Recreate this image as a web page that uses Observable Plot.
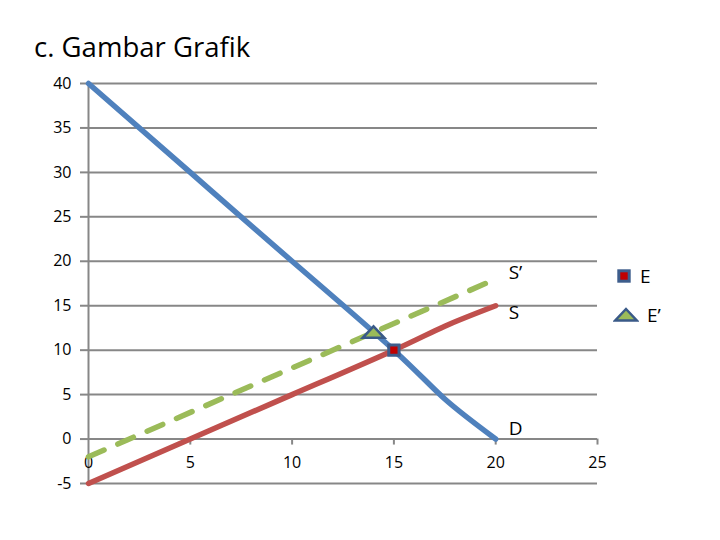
<!DOCTYPE html>
<html>
<head>
<meta charset="utf-8">
<script src="https://cdn.jsdelivr.net/npm/d3@7"></script>
<script src="https://cdn.jsdelivr.net/npm/@observablehq/plot@0.6"></script>
<style>
  body { margin: 0; background: #fff; }
  #wrap { position: relative; width: 720px; height: 540px; font-family: "Open Sans", sans-serif; color: #000; }
  #title { position: absolute; left: 34px; top: 33px; font-size: 27px; line-height: 1; white-space: nowrap;
           display: inline-block; transform: scaleX(1.02); transform-origin: left center; }
  #chart { position: absolute; left: 0; top: 0; }
  .leg { position: absolute; display: flex; align-items: center; font-size: 19px; line-height: 1; }
  .leg svg { margin-right: 8px; }
</style>
</head>
<body>
<div id="wrap">
  <div id="chart"></div>
  <div id="title">c. Gambar Grafik</div>
  <div id="legend"></div>
</div>
<script>
// Demand curve D
const qD = [0, 5, 10, 15, 17.5, 20];
const pD = [40, 30, 20, 10, 4.5, 0];
// Supply curve S
const qS = [0, 5, 10, 15, 17.5, 20];
const pS = [-5, 0, 5, 10, 12.7, 15];
// Shifted supply curve S'
const qS2 = [0, 20];
const pS2 = [-2, 18];
// Equilibria
const eqNames = ["E", "E’"];
const eqQ = [15, 14];
const eqP = [10, 12];
// Axis ticks
const xTicks = [0, 5, 10, 15, 20, 25];
const yTicks = [-5, 0, 5, 10, 15, 20, 25, 30, 35, 40];
// Line labels
const lineLabels = ["S’", "S", "D"];

const colD = "#4f81bd", colS = "#c0504d", colS2 = "#9bbb59";
const grid = "#878787";

const toPts = (q, p) => q.map((x, i) => ({q: x, p: p[i]}));
const D = toPts(qD, pD), S = toPts(qS, pS), S2 = toPts(qS2, pS2);
const E = [{q: eqQ[0], p: eqP[0]}];
const E2 = [{q: eqQ[1], p: eqP[1]}];

const flatTriangle = {
  draw(ctx, size) {
    const r = Math.sqrt(size / Math.PI);
    ctx.moveTo(0, -r);
    ctx.lineTo(r * 1.8, r * 0.9);
    ctx.lineTo(-r * 1.8, r * 0.9);
    ctx.closePath();
  }
};

const fam = "'Open Sans', sans-serif";
const lw = 5.5;

const plot = Plot.plot({
  width: 720,
  height: 540,
  marginLeft: 88,
  marginRight: 123,
  marginTop: 83,
  marginBottom: 57,
  x: {domain: [0, 25]},
  y: {domain: [-5, 40]},
  style: {fontFamily: fam, background: "white", color: "#000"},
  marks: [
    Plot.ruleY(yTicks, {y: d => d, x1: 0, x2: 25, stroke: grid, strokeWidth: 2}),
    Plot.ruleX([0], {x: d => d, y1: -5, y2: 40, stroke: grid, strokeWidth: 2}),
    Plot.axisY({ticks: yTicks, tickSize: 8, tickPadding: 9, stroke: grid, strokeWidth: 2,
                fill: "#000", fontSize: 16, label: null, tickFormat: d => String(d)}),
    Plot.axisX({ticks: [], label: null}),
    Plot.ruleX(xTicks.slice(1), {x: d => d, y1: 0, y2: 0, insetBottom: -6, stroke: grid, strokeWidth: 2}),
    Plot.text(xTicks, {x: d => d, y: 0, dy: 24, text: d => String(d), fontSize: 16, fill: "#000"}),
    Plot.line(S2, {x: "q", y: "p", stroke: colS2, strokeWidth: lw, strokeDasharray: "17,15", strokeLinecap: "round"}),
    Plot.line(S, {x: "q", y: "p", stroke: colS, strokeWidth: lw, curve: "natural", strokeLinecap: "round"}),
    Plot.line(D, {x: "q", y: "p", stroke: colD, strokeWidth: lw, curve: "natural", strokeLinecap: "round"}),
    Plot.dot(E2, {x: "q", y: "p", symbol: flatTriangle, r: 6, fill: colS2, stroke: "#3a5a88", strokeWidth: 2.5}),
    Plot.dot(E, {x: "q", y: "p", symbol: "square", r: 5.8, fill: "#c00000", stroke: "#3d5d8c", strokeWidth: 3}),
    Plot.text(S2, Plot.selectLast({x: "q", y: "p", text: () => lineLabels[0], dx: 13, dy: -6, textAnchor: "start", fontSize: 19, fill: "#000"})),
    Plot.text(S, Plot.selectLast({x: "q", y: "p", text: () => lineLabels[1], dx: 13, dy: 7, textAnchor: "start", fontSize: 19, fill: "#000"})),
    Plot.text(D, Plot.selectLast({x: "q", y: "p", text: () => lineLabels[2], dx: 13, dy: -10, textAnchor: "start", fontSize: 19, fill: "#000"}))
  ]
});
document.getElementById("chart").appendChild(plot);

// Legend (HTML, right of the plot)
const legend = document.getElementById("legend");
const legItems = [
  {name: eqNames[0], top: 265, left: 616,
   svg: '<svg width="16" height="22" viewBox="-8 -11 16 22"><rect x="-5.2" y="-5.2" width="10.4" height="10.4" fill="#c00000" stroke="#3d5d8c" stroke-width="3"/></svg>'},
  {name: eqNames[1], top: 304, left: 613,
   svg: '<svg width="26" height="22" viewBox="-13 -11 26 22"><path d="M0,-6L10.8,5.4L-10.8,5.4Z" fill="#9bbb59" stroke="#3a5a88" stroke-width="2.5"/></svg>'}
];
legItems.forEach(it => {
  const div = document.createElement("div");
  div.className = "leg";
  div.style.top = it.top + "px";
  div.style.left = it.left + "px";
  div.innerHTML = it.svg + "<span>" + it.name + "</span>";
  legend.appendChild(div);
});
</script>
</body>
</html>
